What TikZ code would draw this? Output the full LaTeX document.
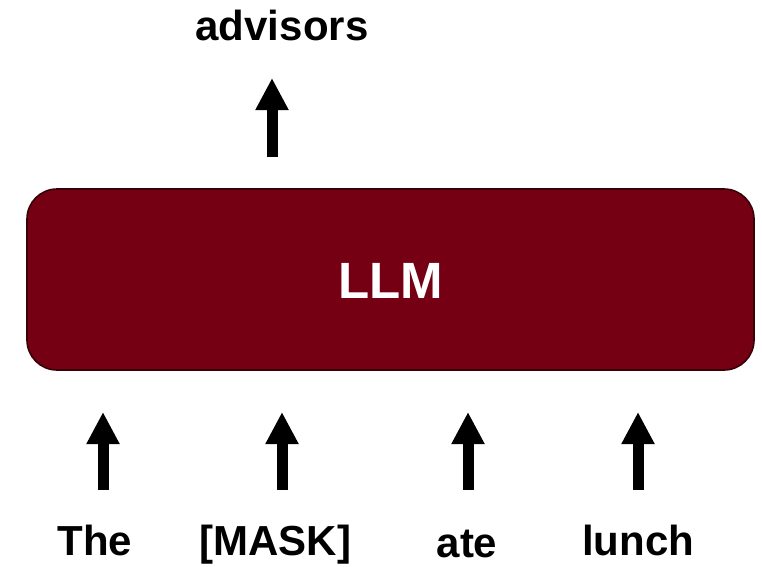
\documentclass[tikz,border=0pt]{standalone}
\usepackage{fontspec}
\setmainfont{Liberation Sans}
\usetikzlibrary{arrows.meta}
\definecolor{llmred}{HTML}{750014}
\definecolor{llmedge}{HTML}{3A0008}
\tikzset{
  word/.style={anchor=base, inner sep=0pt, font=\fontsize{42}{48}\selectfont\bfseries},
  blockarrow/.style={line width=11pt, -{Triangle[width=31pt,length=32pt]}},
  llmbox/.style={draw=llmedge, line width=1.6pt, fill=llmred, rounded corners=30pt}
}
\begin{document}
\begin{tikzpicture}[x=1pt,y=1pt]
\useasboundingbox (0,0) rectangle (762,-566);
% box
\draw[llmbox] (27,-189) rectangle (754,-370);
\node[anchor=base, inner sep=0pt, text=white, font=\fontsize{51}{58}\selectfont\bfseries] (llm) at (391,-298) {LLM};
% output
\node[word] (adv) at (282,-40) {advisors};
\coordinate (o1) at (272,-157);
\coordinate (o2) at (272,-78);
\draw[blockarrow] (o1) -- (o2);
% inputs
\node[word] (w1) at (95,-555) {The};
\node[word] (w2) at (275.5,-555) {[MASK]};
\node[word] (w3) at (467,-557) {ate};
\node[word] (w4) at (638,-555) {lunch};
\foreach \i/\x in {1/103,2/282,3/468,4/638}{
  \coordinate (s\i) at (\x,-490);
  \coordinate (e\i) at (\x,-412);
  \draw[blockarrow] (s\i) -- (e\i);
}
\end{tikzpicture}
\end{document}
